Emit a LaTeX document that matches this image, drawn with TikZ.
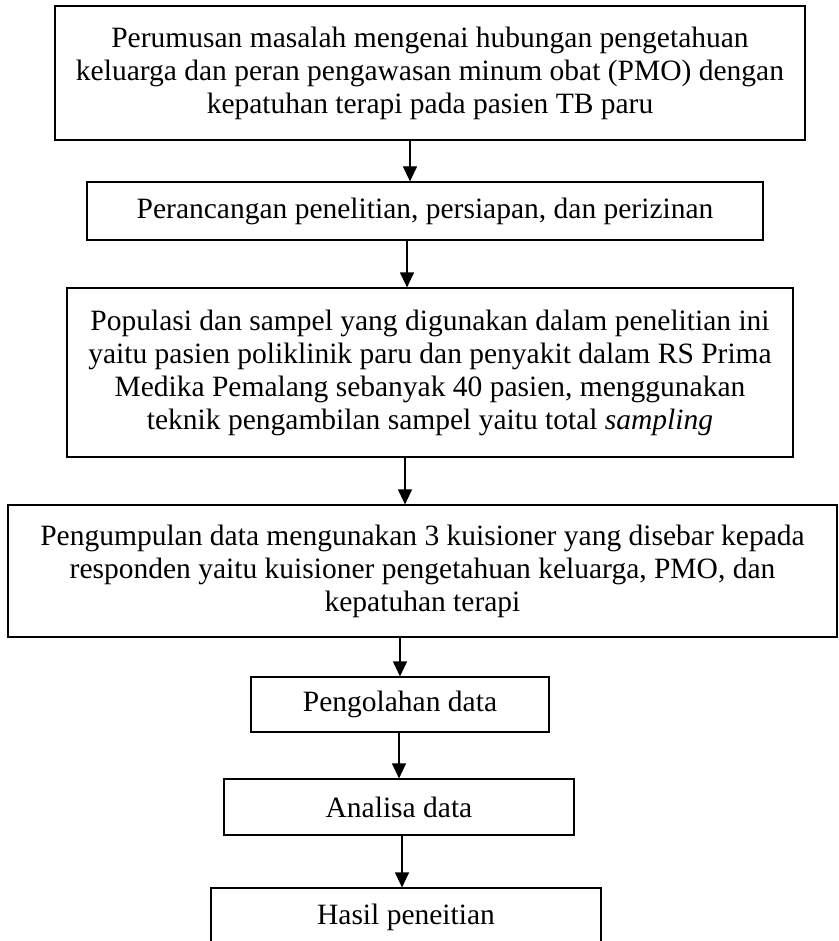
\documentclass[tikz,border=0pt]{standalone}
\usepackage{fontspec}
\setmainfont{Liberation Serif}
\usetikzlibrary{arrows.meta}
\begin{document}
\begin{tikzpicture}[
		x=1pt,
		y=-1pt,
		stage/.style={draw,line width=1.2pt,align=center,inner sep=0pt,font=\fontsize{29.5}{33}\selectfont},
		flow/.style={-{Triangle[width=14pt,length=15pt]},line width=1.2pt},
	]
		\clip (0,0) rectangle (838,941);
		
		\node[stage,minimum width=750pt,minimum height=134pt] (rumus) at (430,73) {Perumusan masalah mengenai hubungan pengetahuan\\keluarga dan peran pengawasan minum obat (PMO) dengan\\kepatuhan terapi pada pasien TB paru};
		\node[stage,minimum width=676pt,minimum height=58pt] (rancang) at (425,211) {Perancangan penelitian, persiapan, dan perizinan};
		\node[stage,minimum width=726pt,minimum height=169pt] (populasi) at (430,372.5) {Populasi dan sampel yang digunakan dalam penelitian ini\\yaitu pasien poliklinik paru dan penyakit dalam RS Prima\\Medika Pemalang sebanyak 40 pasien, menggunakan\\teknik pengambilan sampel yaitu total \textit{sampling}};
		\node[stage,minimum width=829pt,minimum height=132pt] (kumpul) at (422.5,571) {Pengumpulan data mengunakan 3 kuisioner yang disebar kepada\\responden yaitu kuisioner pengetahuan keluarga, PMO, dan\\kepatuhan terapi};
		\node[stage,minimum width=298pt,minimum height=55pt] (olah) at (400,704.5) {Pengolahan data};
		\node[stage,minimum width=350pt,minimum height=56pt] (analisa) at (399,807) {Analisa data};
		\node[stage,minimum width=390pt,minimum height=58pt] (hasil) at (406,917) {Hasil peneitian};
		
		\foreach \a/\b/\x in {rumus/rancang/410, rancang/populasi/407, populasi/kumpul/405, kumpul/olah/400, olah/analisa/399, analisa/hasil/402}{
			\draw[flow] (\a.south -| \x,0) -- (\b.north -| \x,0);
		}
	\end{tikzpicture}
\end{document}
